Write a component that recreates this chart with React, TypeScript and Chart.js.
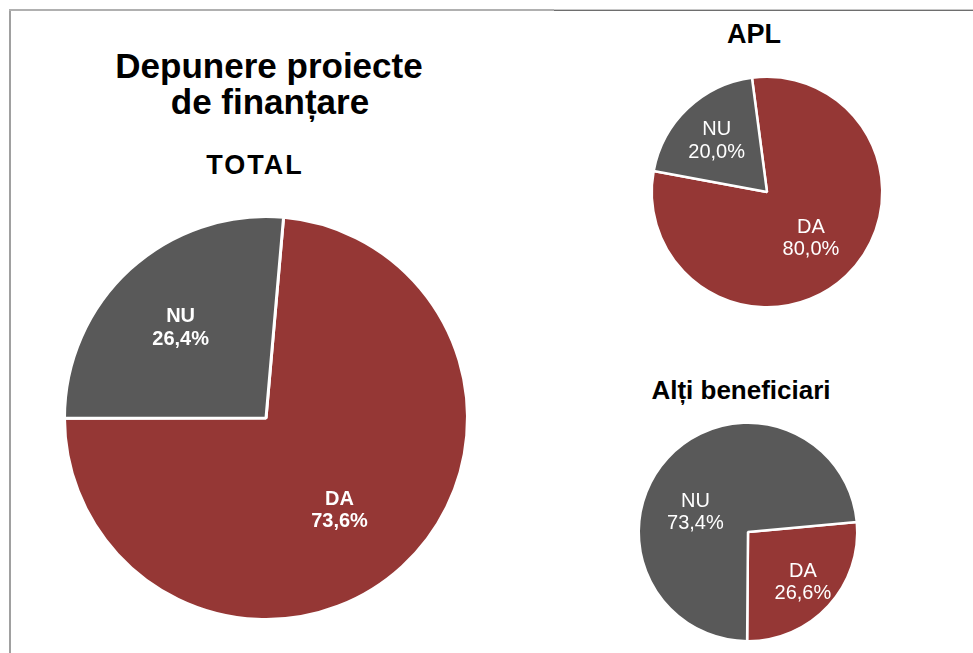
import React, { useEffect, useRef } from 'react';
import { Chart, registerables } from 'chart.js';

Chart.register(...registerables);

// ---- data ----
const categories = ['DA', 'NU'];
const totalValues = [73.6, 26.4];
const aplValues = [80.0, 20.0];
const altiValues = [26.6, 73.4];
const mainTitle = ['Depunere proiecte', 'de finanțare'];
const chartTitles = ['TOTAL', 'APL', 'Alți beneficiari'];

// ---- styles ----
const RED = '#953735';
const GRAY = '#595959';
const FONT = '"Liberation Sans", Arial, Helvetica, sans-serif';

type LabelPos = { f: number; da: number };

const labelPlugin = {
  id: 'sliceLabels',
  afterDatasetsDraw(chart: any, _args: any, opts: any) {
    const ctx = chart.ctx;
    const meta = chart.getDatasetMeta(0);
    const ds = chart.data.datasets[0];
    const pos: LabelPos[] = opts.positions || [];
    ctx.save();
    ctx.fillStyle = '#ffffff';
    ctx.font = `${opts.bold ? 'bold ' : ''}${opts.size}px ${FONT}`;
    ctx.textAlign = 'center';
    ctx.textBaseline = 'middle';
    meta.data.forEach((arc: any, i: number) => {
      const p = pos[i] || { f: 0.6, da: 0 };
      const mid = (arc.startAngle + arc.endAngle) / 2 + (p.da * Math.PI) / 180;
      const r = opts.r * p.f;
      const x = arc.x + Math.cos(mid) * r;
      const y = arc.y + Math.sin(mid) * r;
      const label = String(chart.data.labels[i]);
      const val = Number(ds.data[i]).toFixed(1).replace('.', ',') + '%';
      ctx.fillText(label, x, y - opts.lh / 2);
      ctx.fillText(val, x, y + opts.lh / 2);
    });
    ctx.restore();
  },
};

type PieProps = {
  values: number[];
  cx: number;
  cy: number;
  r: number;
  rotation: number;
  bw: number;
  bold: boolean;
  positions: LabelPos[];
};

function Pie({ values, cx, cy, r, rotation, bw, bold, positions }: PieProps) {
  const ref = useRef<HTMLCanvasElement>(null);
  const S = Math.round(2 * r + 12);
  useEffect(() => {
    const chart = new Chart(ref.current as HTMLCanvasElement, {
      type: 'pie',
      data: {
        labels: categories,
        datasets: [
          {
            data: values,
            backgroundColor: [RED, GRAY],
            borderColor: '#ffffff',
            borderWidth: bw,
          },
        ],
      },
      options: {
        responsive: false,
        animation: false,
        rotation,
        radius: r + bw / 2,
        layout: { padding: 0 },
        events: [],
        plugins: {
          legend: { display: false },
          tooltip: { enabled: false },
          title: { display: false },
          sliceLabels: { positions, bold, size: 20, lh: 22.5, r },
        } as any,
      },
      plugins: [labelPlugin],
    });
    return () => chart.destroy();
  }, []);
  return (
    <canvas
      ref={ref}
      width={S}
      height={S}
      style={{ position: 'absolute', left: cx - S / 2, top: cy - S / 2, width: S, height: S }}
    />
  );
}

function Heading({ text, cx, top, size, spacing = 0 }: { text: string; cx: number; top: number; size: number; spacing?: number }) {
  return (
    <div
      style={{
        position: 'absolute',
        left: cx - 250 + spacing / 2,
        width: 500,
        top,
        textAlign: 'center',
        fontFamily: FONT,
        fontWeight: 'bold',
        fontSize: size,
        lineHeight: `${size}px`,
        letterSpacing: spacing,
        color: '#000',
        whiteSpace: 'nowrap',
      }}
    >
      {text}
    </div>
  );
}

export default function App() {
  return (
    <div
      style={{
        position: 'absolute',
        left: 0,
        top: 0,
        width: 973,
        height: 653,
        background: '#ffffff',
        overflow: 'hidden',
      }}
    >
      {/* frame */}
      <div style={{ position: 'absolute', left: 9, top: 9, width: 2, height: 660, background: '#a0a0a0' }} />
      <div style={{ position: 'absolute', left: 9, top: 9, width: 545, height: 2, background: '#b0b0b0' }} />
      <div style={{ position: 'absolute', left: 554, top: 9, width: 430, height: 1, background: '#c8c8c8' }} />
      <div style={{ position: 'absolute', left: 554, top: 10, width: 430, height: 1, background: '#6e6e6e' }} />

      <Heading text={mainTitle[0]} cx={269} top={48} size={35} />
      <Heading text={mainTitle[1]} cx={270} top={84} size={35} />
      <Heading text={chartTitles[0]} cx={254} top={152} size={27} spacing={2} />
      <Heading text={chartTitles[1]} cx={754} top={20.5} size={27} />
      <Heading text={chartTitles[2]} cx={741} top={376.5} size={26} />

      <Pie
        values={totalValues}
        cx={266}
        cy={418}
        r={200}
        rotation={5}
        bw={3}
        bold={true}
        positions={[{ f: 0.59, da: 4 }, { f: 0.62, da: -1 }]}
      />
      <Pie
        values={aplValues}
        cx={767}
        cy={192}
        r={114}
        rotation={-7.5}
        bw={2.5}
        bold={false}
        positions={[{ f: 0.56, da: 0 }, { f: 0.63, da: -1 }]}
      />
      <Pie
        values={altiValues}
        cx={748}
        cy={532}
        r={108}
        rotation={84.7}
        bw={2.5}
        bold={false}
        positions={[{ f: 0.69, da: 0 }, { f: 0.52, da: -22 }]}
      />
    </div>
  );
}
